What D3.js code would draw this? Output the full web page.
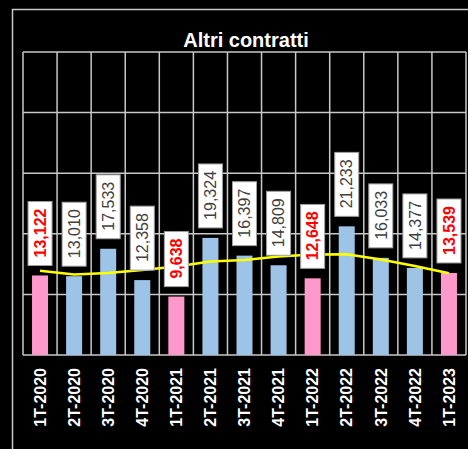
<!DOCTYPE html>
<html>
<head>
<meta charset="utf-8">
<script src="https://cdn.jsdelivr.net/npm/d3@7"></script>
<style>
  body { margin: 0; background: #000; }
  svg { display: block; }
</style>
</head>
<body>
<div id="chart"></div>
<script>
// categorie (trimestri)
const quarters = ['1T-2020', '2T-2020', '3T-2020', '4T-2020', '1T-2021', '2T-2021', '3T-2021',
    '4T-2021', '1T-2022', '2T-2022', '3T-2022', '4T-2022', '1T-2023'];
// valori delle barre
const values = [13122, 13010, 17533, 12358, 9638, 19324, 16397, 14809, 12648, 21233, 16033, 14377, 13539];
// linea di tendenza (gialla)
const trend = [13910, 13270, 13530, 14025, 14600, 15430, 15680, 16250, 16580, 16615, 15760, 14685, 13480];
const yTicks = [0, 10000, 20000, 30000, 40000, 50000];

const width = 468, height = 449;
const margin = { top: 52, right: 2, bottom: 94, left: 23 };

const svg = d3.select('#chart')
    .append('svg')
    .attr('width', width)
    .attr('height', height);

svg.append('rect')
    .attr('width', width)
    .attr('height', height)
    .attr('fill', '#000');

// cornice esterna
svg.append('rect')
    .attr('x', 12.5)
    .attr('y', 9.5)
    .attr('width', 500)
    .attr('height', 500)
    .attr('fill', 'none')
    .attr('stroke', '#c8c8c8')
    .attr('stroke-width', 1.5);

svg.append('text')
    .attr('x', 246)
    .attr('y', 47)
    .attr('text-anchor', 'middle')
    .attr('fill', '#fff')
    .style('font', 'bold 20px "Liberation Sans", Arial, sans-serif')
    .text('Altri contratti');

const x = d3.scaleBand()
    .domain(quarters)
    .range([margin.left, width - margin.right])
    .padding(0);

const y = d3.scaleLinear()
    .domain([0, 50000])
    .range([height - margin.bottom, margin.top]);

const grid = svg.append('g')
    .attr('stroke', '#c8c8c8')
    .attr('stroke-width', 1.5);

// griglia orizzontale
grid.selectAll('.h')
    .data(yTicks)
    .enter()
    .append('line')
    .attr('x1', margin.left)
    .attr('x2', width - margin.right)
    .attr('y1', (d) => y(d))
    .attr('y2', (d) => y(d));

// griglia verticale
grid.selectAll('.v')
    .data(quarters.concat(['end']))
    .enter()
    .append('line')
    .attr('x1', (d, i) => margin.left + i * x.bandwidth())
    .attr('x2', (d, i) => margin.left + i * x.bandwidth())
    .attr('y1', y(50000))
    .attr('y2', y(0));

const barW = x.bandwidth() * 0.47;
const isFirst = (q) => q.startsWith('1T');

svg.append('g')
    .selectAll('rect')
    .data(values)
    .enter()
    .append('rect')
    .attr('x', (d, i) => x(quarters[i]) + (x.bandwidth() - barW) / 2)
    .attr('y', (d) => y(d))
    .attr('width', barW)
    .attr('height', (d) => y(0) - y(d))
    .attr('fill', (d, i) => isFirst(quarters[i]) ? '#ff99cc' : '#9dc3e6');

// linea di tendenza
const line = d3.line()
    .x((d, i) => x(quarters[i]) + x.bandwidth() / 2)
    .y((d) => y(d));

svg.append('path')
    .datum(trend)
    .attr('d', line)
    .attr('fill', 'none')
    .attr('stroke', '#ffff00')
    .attr('stroke-width', 2.5)
    .attr('stroke-linejoin', 'round');

// etichette dei valori
const fmt = d3.format(',');
const labels = svg.append('g')
    .selectAll('g')
    .data(values)
    .enter()
    .append('g')
    .attr('transform', (d, i) => `translate(${x(quarters[i]) + x.bandwidth() / 2}, ${y(d) - 10})`);

const boxes = labels.append('rect')
    .attr('fill', '#fff')
    .attr('stroke', '#a0a0a0')
    .attr('stroke-width', 1);

const texts = labels.append('text')
    .attr('transform', 'rotate(-90)')
    .attr('x', 8)
    .attr('dy', '0.36em')
    .attr('fill', (d, i) => isFirst(quarters[i]) ? '#ff0000' : '#404040')
    .style('font', (d, i) => (isFirst(quarters[i]) ? 'bold ' : '') + '16px "Liberation Sans", Arial, sans-serif')
    .text((d) => fmt(d));

texts.each(function (d, i) {
    const len = this.getComputedTextLength();
    d3.select(boxes.nodes()[i])
        .attr('x', -12)
        .attr('y', -(len + 15))
        .attr('width', 24)
        .attr('height', len + 15);
});

// etichette asse x
svg.append('g')
    .selectAll('text')
    .data(quarters)
    .enter()
    .append('text')
    .attr('transform', (d) => `translate(${x(d) + x.bandwidth() / 2}, 368) rotate(-90)`)
    .attr('text-anchor', 'end')
    .attr('dy', '0.36em')
    .attr('fill', '#fff')
    .style('font', 'bold 16px "Liberation Sans", Arial, sans-serif')
    .text((d) => d);
</script>
</body>
</html>
